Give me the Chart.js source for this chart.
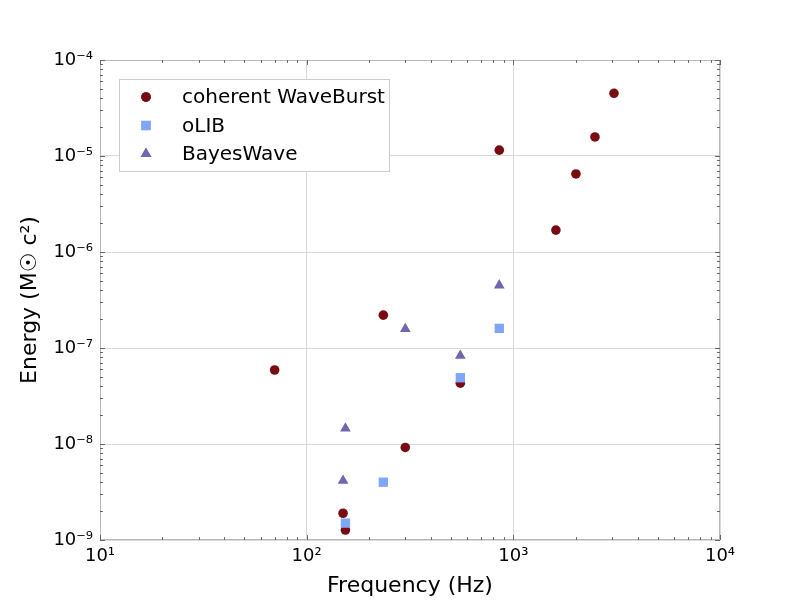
<!DOCTYPE html>
<html>
<head>
<meta charset="utf-8">
<script src="https://cdn.jsdelivr.net/npm/chart.js@4.4.0/dist/chart.umd.min.js"></script>
<style>
  html, body { margin: 0; padding: 0; background: #fff; }
  #wrap { width: 800px; height: 600px; }
</style>
</head>
<body>
<div id="wrap"><canvas id="grafico" width="800" height="600"></canvas></div>
<script>
// valores (frequência em Hz, energia em Msun c^2)
const cwbFreq = [70, 235, 150, 154, 300, 554, 855, 1607, 2009, 2483, 3069];
const cwbEnergy = [5.9e-8, 2.2e-7, 1.9e-9, 1.27e-9, 9.2e-9, 4.3e-8, 1.15e-5, 1.69e-6, 6.5e-6, 1.58e-5, 4.5e-5];

const olibFreq = [154, 235, 554, 855];
const olibEnergy = [1.5e-9, 4.0e-9, 4.9e-8, 1.6e-7];

const bwFreq = [150, 154, 300, 554, 855];
const bwEnergy = [4.15e-9, 1.45e-8, 1.58e-7, 8.3e-8, 4.5e-7];

const seriesNames = ['coherent WaveBurst', 'oLIB', 'BayesWave'];

const xTickValues = [1e1, 1e2, 1e3, 1e4];
const xTickLabels = ['10¹', '10²', '10³', '10⁴'];
const yTickValues = [1e-9, 1e-8, 1e-7, 1e-6, 1e-5, 1e-4];
const yTickLabels = ['10⁻⁹', '10⁻⁸', '10⁻⁷', '10⁻⁶', '10⁻⁵', '10⁻⁴'];

const fonte = 'DejaVu Sans';

// junta duas listas em pontos {x, y}
const pontos = (xs, ys) => xs.map((x, i) => ({ x: x, y: ys[i] }));

// moldura, ticks para dentro (estilo matplotlib) e legenda dentro do gráfico
const molduraPlugin = {
  id: 'moldura',
  afterDraw(chart) {
    const ctx = chart.ctx;
    const area = chart.chartArea;
    const sx = chart.scales.x;
    const sy = chart.scales.y;

    ctx.save();
    ctx.strokeStyle = '#b8b8b8';
    ctx.lineWidth = 1;
    ctx.strokeRect(area.left + 0.5, area.top + 0.5, area.right - area.left - 1, area.bottom - area.top - 1);

    ctx.strokeStyle = '#666';
    ctx.beginPath();
    const marcas = (scale, cb) => {
      const e0 = Math.floor(Math.log10(scale.min));
      const e1 = Math.ceil(Math.log10(scale.max));
      for (let e = e0; e <= e1; e++) {
        for (let m = 1; m <= 9; m++) {
          const v = m * Math.pow(10, e);
          if (v < scale.min * 0.999 || v > scale.max * 1.001) continue;
          cb(Math.round(scale.getPixelForValue(v)) + 0.5, m === 1 ? 5 : 3);
        }
      }
    };
    marcas(sx, (px, len) => {
      ctx.moveTo(px, area.bottom); ctx.lineTo(px, area.bottom - len);
      ctx.moveTo(px, area.top); ctx.lineTo(px, area.top + len);
    });
    marcas(sy, (py, len) => {
      ctx.moveTo(area.left, py); ctx.lineTo(area.left + len, py);
      ctx.moveTo(area.right, py); ctx.lineTo(area.right - len, py);
    });
    ctx.stroke();

    // legenda
    const lx = 119, ly = 79, lw = 270, lh = 92;
    ctx.fillStyle = '#fff';
    ctx.fillRect(lx, ly, lw, lh);
    ctx.strokeStyle = '#cccccc';
    ctx.strokeRect(lx + 0.5, ly + 0.5, lw, lh);
    ctx.font = '20px "' + fonte + '"';
    ctx.textBaseline = 'middle';
    ctx.textAlign = 'left';
    chart.data.datasets.forEach((ds, i) => {
      const cy = ly + 18 + i * 28.5;
      ctx.fillStyle = ds.backgroundColor;
      Chart.helpers.drawPoint(ctx, { pointStyle: ds.pointStyle, radius: ds.pointRadius, rotation: 0, borderWidth: 0 }, lx + 27, cy);
      ctx.fill();
      ctx.fillStyle = '#000';
      ctx.fillText(ds.label, lx + 63, cy + 1);
    });
    ctx.restore();
  }
};

const ctx = document.getElementById('grafico').getContext('2d');
new Chart(ctx, {
  type: 'scatter',
  data: {
    datasets: [
      {
        label: seriesNames[0],
        data: pontos(cwbFreq, cwbEnergy),
        backgroundColor: '#790c13',
        borderWidth: 0,
        pointStyle: 'circle',
        pointRadius: 4.8,
        order: 3,
      },
      {
        label: seriesNames[1],
        data: pontos(olibFreq, olibEnergy),
        backgroundColor: '#80a6f7',
        borderWidth: 0,
        pointStyle: 'rect',
        pointRadius: 6.6,
        order: 2,
      },
      {
        label: seriesNames[2],
        data: pontos(bwFreq, bwEnergy),
        backgroundColor: '#7264ae',
        borderWidth: 0,
        pointStyle: 'triangle',
        pointRadius: 6.2,
        order: 1,
      },
    ],
  },
  options: {
    responsive: false,
    animation: false,
    devicePixelRatio: 1,
    layout: { padding: { left: 0, top: 60, right: 80, bottom: 0 } },
    plugins: {
      legend: { display: false },
      tooltip: { enabled: false },
    },
    scales: {
      x: {
        type: 'logarithmic',
        min: 10,
        max: 10000,
        afterBuildTicks: (scale) => { scale.ticks = xTickValues.map(v => ({ value: v })); },
        afterFit: (scale) => { scale.height = 60; },
        ticks: {
          autoSkip: false,
          maxRotation: 0,
          padding: 6,
          color: '#000',
          font: { family: fonte, size: 18 },
          callback: (v, i) => xTickLabels[i],
        },
        grid: { color: '#d9d9d9', drawTicks: false },
        border: { display: false },
        title: {
          display: true,
          text: 'Frequency (Hz)',
          color: '#000',
          font: { family: fonte, size: 22 },
          padding: { top: 0, bottom: 1 },
        },
      },
      y: {
        type: 'logarithmic',
        min: 1e-9,
        max: 1e-4,
        afterBuildTicks: (scale) => { scale.ticks = yTickValues.map(v => ({ value: v })); },
        afterFit: (scale) => { scale.width = 100; },
        ticks: {
          autoSkip: false,
          padding: 7,
          color: '#000',
          font: { family: fonte, size: 18 },
          callback: (v, i) => yTickLabels[i],
        },
        grid: { color: '#d9d9d9', drawTicks: false },
        border: { display: false },
        title: {
          display: true,
          text: 'Energy (M☉ c²)',
          color: '#000',
          font: { family: fonte, size: 22 },
          padding: { top: 17, bottom: 0 },
        },
      },
    },
  },
  plugins: [molduraPlugin],
});
</script>
</body>
</html>
